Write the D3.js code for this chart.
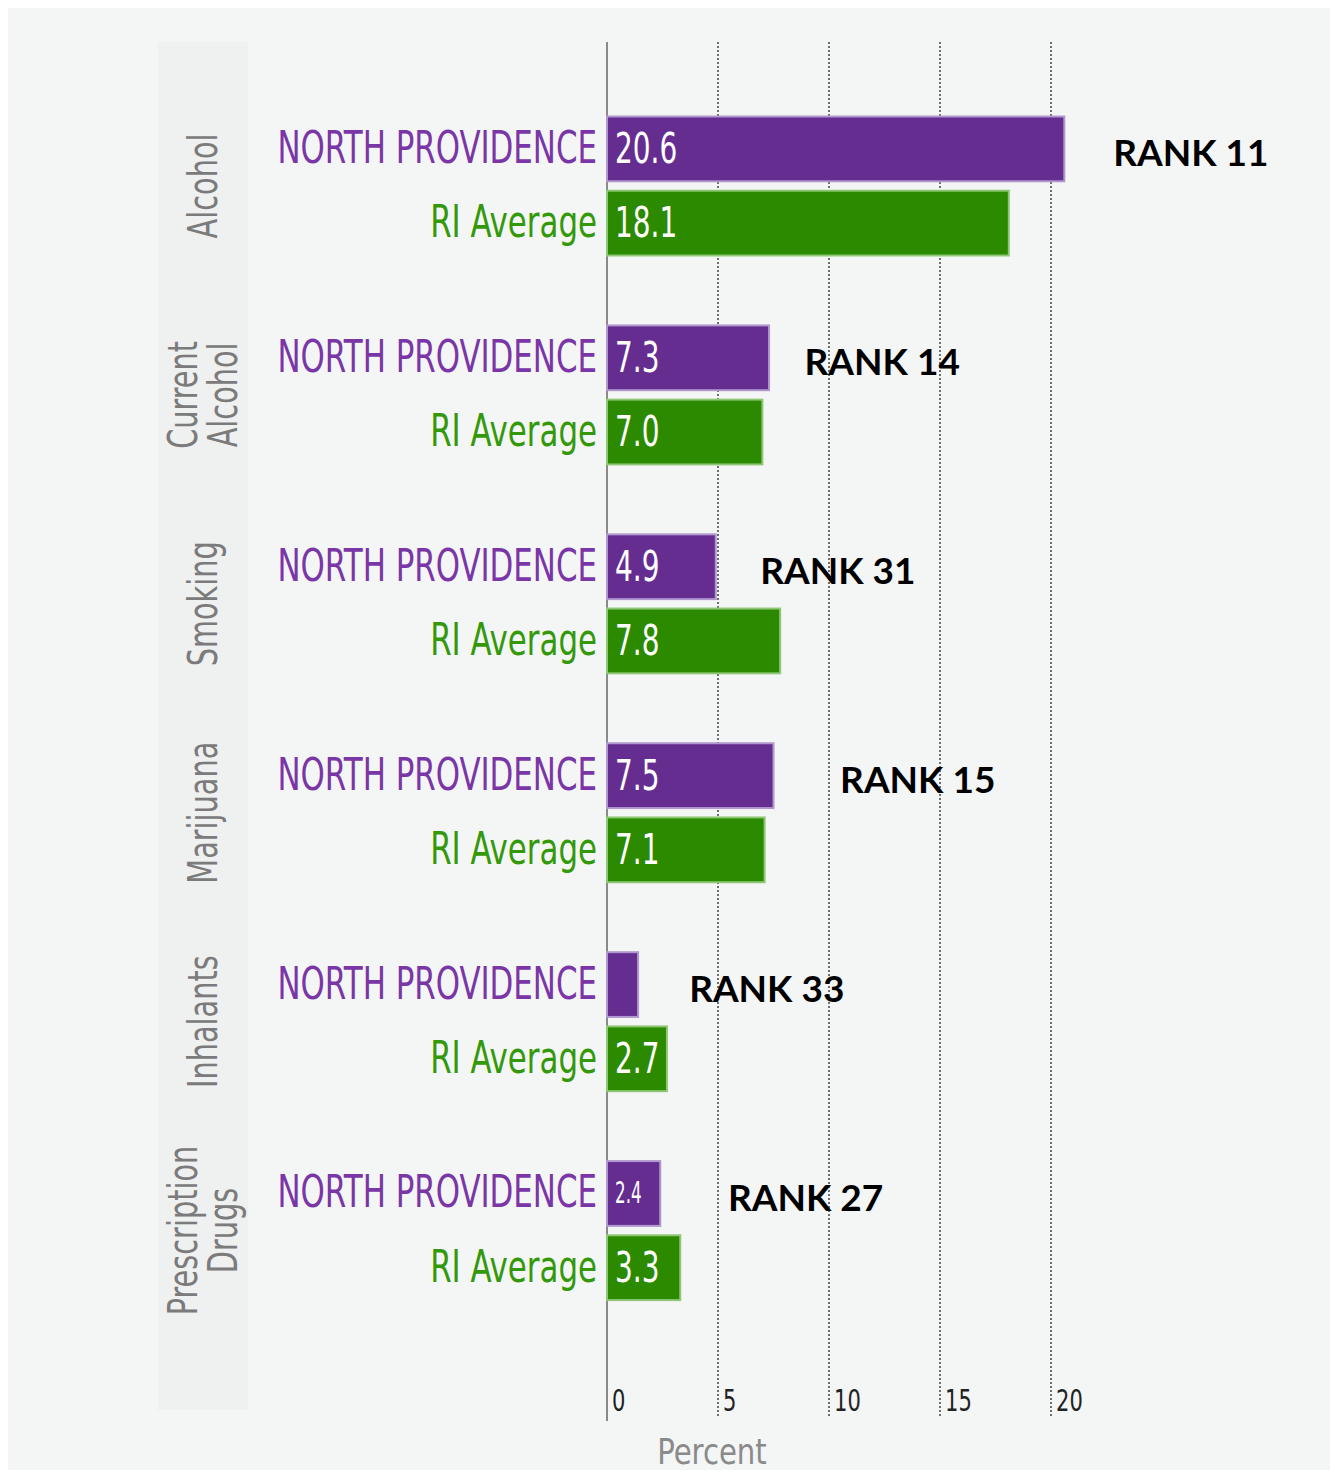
<!DOCTYPE html>
<html>
<head>
<meta charset="utf-8">
<script src="https://cdn.jsdelivr.net/npm/d3@7"></script>
<style>
  body { margin: 0; background: #ffffff; }
  svg { display: block; }
</style>
</head>
<body>
<div id="chart"></div>
<script>
// Data
const categories = [
  ['Alcohol'],
  ['Current', 'Alcohol'],
  ['Smoking'],
  ['Marijuana'],
  ['Inhalants'],
  ['Prescription', 'Drugs'],
];
const seriesNames = ['NORTH PROVIDENCE', 'RI Average'];
const northProvidence = [20.6, 7.3, 4.9, 7.5, 1.4, 2.4];
const riAverage = [18.1, 7.0, 7.8, 7.1, 2.7, 3.3];
const ranks = [11, 14, 31, 15, 33, 27];
const xTicks = [0, 5, 10, 15, 20];

// where each rank note sits, in percent units along the x scale
const rankLabelAt = [22.8, 8.9, 6.9, 10.5, 3.7, 5.45];

const totalWidth = 1335;
const totalHeight = 1473;
const colors = {
  bar: ['#662d91', '#2b8a00'],
  edge: ['#b197d0', '#8fc776'],
  text: ['#7a36a6', '#33990a'],
};
const squeeze = 0.78;
const font = '"DejaVu Sans Condensed", "DejaVu Sans", sans-serif';

const rows = categories.map((c, i) => ({
  id: i,
  values: [northProvidence[i], riAverage[i]],
}));

const xScale = d3.scaleLinear().domain([0, 20]).range([607, 1051]);
const yGroup = d3
  .scaleBand()
  .domain(d3.range(categories.length))
  .range([81.5, 1335]);
const ySub = d3
  .scaleBand()
  .domain(seriesNames)
  .range([34, 175])
  .paddingInner(0.1);

const svg = d3
  .select('#chart')
  .append('svg')
  .attr('width', totalWidth)
  .attr('height', totalHeight);

// Backgrounds
svg
  .append('rect')
  .attr('x', 8)
  .attr('y', 8)
  .attr('width', totalWidth - 13)
  .attr('height', totalHeight - 11)
  .attr('fill', '#f4f5f5');

svg
  .append('rect')
  .attr('x', 158)
  .attr('y', 42)
  .attr('width', 90)
  .attr('height', 1368)
  .attr('fill', '#eff0f0');

// Dotted grid lines
svg
  .append('g')
  .selectAll('line')
  .data(xTicks.filter((d) => d > 0))
  .join('line')
  .attr('x1', (d) => xScale(d))
  .attr('x2', (d) => xScale(d))
  .attr('y1', 42)
  .attr('y2', 1418)
  .attr('stroke', '#6e6e6e')
  .attr('stroke-width', 2)
  .attr('stroke-dasharray', '2,2');

// Zero axis line
svg
  .append('line')
  .attr('x1', xScale(0))
  .attr('x2', xScale(0))
  .attr('y1', 42)
  .attr('y2', 1421)
  .attr('stroke', '#8a8a8a')
  .attr('stroke-width', 2);

// Tick labels
svg
  .append('g')
  .selectAll('text')
  .data(xTicks)
  .join('text')
  .attr('transform', (d) => `translate(${xScale(d) + 5}, 1411) scale(${squeeze}, 1)`)
  .attr('font-family', font)
  .attr('font-size', 30)
  .attr('fill', '#222')
  .text((d) => d);

// Axis title
svg
  .append('text')
  .attr('transform', `translate(712, 1464) scale(0.9, 1)`)
  .attr('text-anchor', 'middle')
  .attr('font-family', font)
  .attr('font-size', 36)
  .attr('fill', '#8a8a8a')
  .text('Percent');

// Groups
const groups = svg
  .selectAll('g.group')
  .data(rows)
  .join('g')
  .attr('class', 'group')
  .attr('transform', (d) => `translate(0, ${yGroup(d.id)})`);

// Category labels (rotated)
groups.each(function (d) {
  const lines = categories[d.id];
  const g = d3.select(this);
  lines.forEach((line, j) => {
    const bx = 217 + (j - (lines.length - 1) / 2) * 40;
    g.append('text')
      .attr(
        'transform',
        `translate(${bx}, ${yGroup.bandwidth() / 2}) rotate(-90) scale(${squeeze}, 1)`
      )
      .attr('text-anchor', 'middle')
      .attr('font-family', font)
      .attr('font-size', 41)
      .attr('fill', '#7b7b7b')
      .text(line);
  });
});

const bars = groups
  .selectAll('g.bar')
  .data((d) => d.values.map((v, k) => ({ value: v, k, name: seriesNames[k] })))
  .join('g')
  .attr('class', 'bar');

// Bars
bars
  .append('rect')
  .attr('x', xScale(0))
  .attr('y', (d) => ySub(d.name) + 1)
  .attr('width', (d) => xScale(d.value) - xScale(0))
  .attr('height', ySub.bandwidth() - 2)
  .attr('fill', (d) => colors.bar[d.k])
  .attr('stroke', (d) => colors.edge[d.k])
  .attr('stroke-width', 2);

// Series labels
bars
  .append('text')
  .attr(
    'transform',
    (d) => `translate(${xScale(0) - 10}, ${ySub(d.name) + ySub.bandwidth() / 2 + 14}) scale(${squeeze}, 1)`
  )
  .attr('text-anchor', 'end')
  .attr('font-family', font)
  .attr('font-size', 44)
  .attr('fill', (d) => colors.text[d.k])
  .text((d) => d.name);

// Value labels inside bars
bars
  .filter((d) => xScale(d.value) - xScale(0) >= 40)
  .append('text')
  .attr('transform', (d) => {
    const small = xScale(d.value) - xScale(0) < 56;
    const base = ySub(d.name) + ySub.bandwidth() / 2 + (small ? 10 : 14);
    return `translate(${xScale(0) + 8}, ${base}) scale(${small ? 0.62 : 0.74}, 1)`;
  })
  .attr('font-family', font)
  .attr('font-size', (d) => (xScale(d.value) - xScale(0) < 56 ? 30 : 42))
  .attr('fill', '#ffffff')
  .text((d) => d3.format('.1f')(d.value));

// Rank notes
groups
  .append('text')
  .attr('x', (d) => xScale(rankLabelAt[d.id]))
  .attr('y', ySub(seriesNames[0]) + ySub.bandwidth() / 2 + 3)
  .attr('dominant-baseline', 'central')
  .attr('font-family', 'Lato, "Open Sans", sans-serif')
  .attr('font-weight', 'bold')
  .attr('font-size', 37)
  .attr('fill', '#000')
  .text((d) => `RANK ${ranks[d.id]}`);
</script>
</body>
</html>
